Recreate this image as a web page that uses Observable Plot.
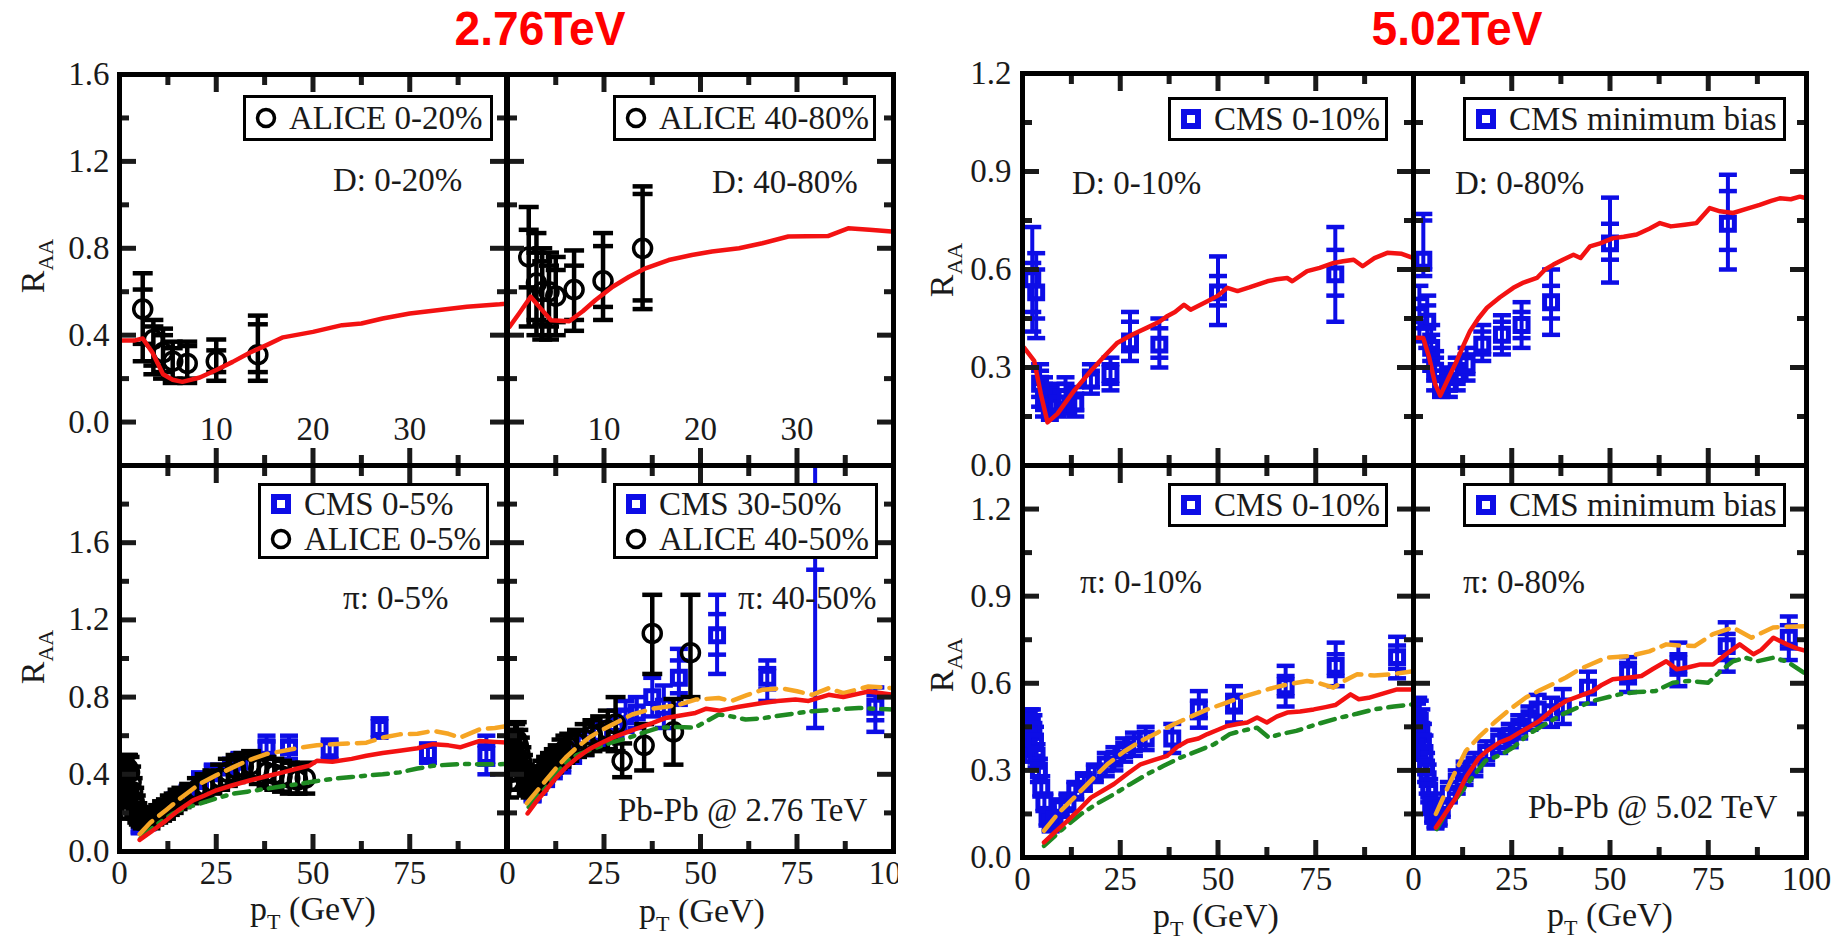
<!DOCTYPE html>
<html><head><meta charset="utf-8">
<script src="https://cdn.jsdelivr.net/npm/d3@7"></script>
<script src="https://cdn.jsdelivr.net/npm/@observablehq/plot@0.6"></script>
<style>
body{margin:0;background:#fff;}
#page{position:relative;width:1847px;height:940px;overflow:hidden;background:#fff;font-family:"Liberation Serif","DejaVu Serif",serif;color:#1a1a1a;}
.grp{position:absolute;top:0;height:940px;}
.txt{position:absolute;font-size:33px;line-height:40px;white-space:nowrap;}
.title{position:absolute;top:1px;font-family:"Liberation Sans",Arial,sans-serif;font-weight:bold;color:#ff0000;font-size:48px;line-height:56px;white-space:nowrap;transform:translateX(-50%) scaleX(0.96);}
.lg{position:absolute;border:3px solid #000;box-sizing:border-box;background:#fff;display:flex;flex-direction:column;justify-content:space-around;}
.lgrow{display:flex;align-items:center;font-size:33px;line-height:34px;white-space:nowrap;padding-left:8px;}
.lgrow svg{margin-right:11px;flex:none;}
.rot{position:absolute;transform:translate(-50%,-50%) rotate(-90deg);font-size:34px;white-space:nowrap;line-height:30px;}
.xl{position:absolute;transform:translate(-50%,-50%);font-size:34px;white-space:nowrap;line-height:28px;}
sub{font-size:22px;vertical-align:-9px;line-height:0;}
</style></head><body><div id="page"></div>
<script>
// ---------------- data ----------------
// Titles
const titles = ["2.76TeV", "5.02TeV"];

// Panel A : D meson, 0-20%, 2.76 TeV
const A_red = [[0,0.375],[1.5,0.375],[2.4,0.385],[3.4,0.32],[4.5,0.22],[5.5,0.195],[6.5,0.185],[8.3,0.205],[10,0.24],[11.7,0.277],[13.5,0.32],[15.2,0.354],[16.9,0.39],[20,0.415],[23,0.446],[25,0.454],[27.2,0.477],[30,0.5],[32.4,0.512],[35.9,0.531],[39.3,0.542],[40,0.545]];
const A_alice = [[2.4,0.52,0.28,0.685,0.36,0.61],[3.5,0.38,0.22,0.47,0.26,0.44],[4.5,0.32,0.2,0.43,0.23,0.4],[5.5,0.28,0.18,0.37,0.2,0.34],[7,0.27,0.18,0.37,0.2,0.35],[10,0.28,0.19,0.38,0.23,0.33],[14.3,0.31,0.19,0.49,0.23,0.45]];

// Panel B : D meson, 40-80%, 2.76 TeV
const B_red = [[0.2,0.438],[1.2,0.5],[2.4,0.577],[3.5,0.52],[4.5,0.469],[6.4,0.464],[7.8,0.51],[9.1,0.561],[10.9,0.623],[12.6,0.669],[14.3,0.708],[16.7,0.746],[19.1,0.769],[21.2,0.785],[24,0.8],[26.4,0.823],[29.1,0.854],[31,0.855],[33.2,0.856],[35.3,0.892],[37.5,0.885],[39.8,0.877]];
const B_alice = [[2.2,0.76,0.44,0.99,0.62,0.885],[3,0.64,0.4,0.87,0.47,0.78],[3.6,0.6,0.38,0.8,0.45,0.74],[4.3,0.6,0.38,0.78,0.44,0.72],[5,0.58,0.4,0.76,0.46,0.7],[6.9,0.61,0.42,0.79,0.47,0.72],[9.9,0.65,0.47,0.87,0.53,0.81],[14,0.8,0.52,1.085,0.56,1.05]];

// Panel C : D meson, 0-10%, 5.02 TeV
const C_red = [[0.4,0.361],[3,0.32],[4.7,0.218],[6.4,0.132],[8.9,0.158],[13.2,0.229],[17.5,0.29],[21,0.335],[24.3,0.376],[28,0.4],[31.9,0.422],[35,0.44],[37.1,0.458],[39,0.47],[41.3,0.492],[43,0.477],[47.3,0.503],[50,0.52],[52.4,0.544],[55,0.534],[58,0.545],[62.6,0.564],[65,0.57],[67.7,0.574],[69,0.564],[72.8,0.595],[76,0.605],[79.6,0.62],[82,0.625],[84.7,0.63],[87,0.61],[90,0.635],[93.3,0.651],[97,0.648],[100,0.635]];
const C_cms = [[2.5,0.57,0.41,0.73,0.47,0.62],[3.5,0.53,0.39,0.65,0.45,0.6],[4.5,0.25,0.18,0.31,0.21,0.29],[5.5,0.21,0.15,0.27,0.17,0.25],[7,0.18,0.14,0.24,0.16,0.22],[9,0.19,0.15,0.25,0.17,0.23],[11,0.21,0.16,0.27,0.18,0.25],[13.5,0.19,0.15,0.24,0.17,0.22],[17.5,0.26,0.22,0.31,0.24,0.29],[22.5,0.28,0.23,0.33,0.25,0.31],[27.5,0.38,0.32,0.47,0.35,0.44],[35,0.37,0.3,0.45,0.33,0.42],[50,0.53,0.43,0.64,0.49,0.58],[80,0.585,0.44,0.73,0.52,0.66]];

// Panel D : D meson, 0-80%, 5.02 TeV
const D_red = [[0.8,0.391],[2.5,0.39],[4,0.33],[5.5,0.25],[6.8,0.214],[9,0.27],[11,0.32],[12.8,0.37],[14.4,0.412],[16.5,0.45],[18.7,0.483],[22,0.515],[25.4,0.544],[28,0.56],[31.4,0.574],[33.5,0.6],[35.6,0.615],[38,0.63],[40.7,0.645],[42.5,0.635],[44.9,0.671],[47.5,0.68],[50.8,0.696],[53.5,0.7],[56.8,0.707],[60,0.725],[62.7,0.742],[65.5,0.732],[69,0.737],[72,0.742],[75.4,0.788],[78,0.778],[81.3,0.773],[84.5,0.785],[88.1,0.798],[91,0.81],[93.2,0.818],[96,0.815],[98.3,0.823],[100,0.818]];
const D_cms = [[1.5,0.46,0.38,0.55,0.42,0.51],[2.5,0.63,0.58,0.77,0.6,0.75],[3.5,0.44,0.36,0.52,0.39,0.49],[4.5,0.36,0.29,0.43,0.32,0.4],[5.5,0.29,0.23,0.35,0.26,0.33],[7,0.24,0.21,0.29,0.22,0.27],[9,0.25,0.21,0.3,0.23,0.28],[11,0.28,0.23,0.33,0.25,0.31],[13.5,0.31,0.26,0.36,0.28,0.34],[17.5,0.37,0.32,0.43,0.34,0.41],[22.5,0.4,0.34,0.46,0.36,0.44],[27.5,0.43,0.36,0.5,0.39,0.47],[35,0.5,0.4,0.6,0.45,0.55],[50,0.68,0.56,0.82,0.63,0.74],[80,0.74,0.6,0.89,0.66,0.84]];

// Panel E : pion, 0-5%, 2.76 TeV
const E_red = [[5.2,0.06],[8,0.1],[12,0.16],[15,0.21],[19,0.265],[22,0.29],[25,0.317],[29,0.342],[33.6,0.368],[38,0.39],[42.2,0.41],[46,0.43],[49.1,0.445],[51,0.47],[55,0.465],[60,0.48],[63.8,0.496],[68,0.51],[72.4,0.522],[77,0.535],[81,0.556],[85,0.55],[88,0.54],[93.1,0.573],[97,0.568],[100,0.565]];
const E_orange = [[5.2,0.09],[8,0.15],[12,0.214],[16,0.28],[20.7,0.35],[25,0.395],[29.3,0.436],[33,0.47],[37.9,0.505],[42,0.52],[46.6,0.538],[51,0.55],[55,0.556],[60,0.56],[63.8,0.564],[68,0.59],[72.4,0.607],[77,0.61],[81,0.625],[85,0.61],[88,0.59],[93.1,0.633],[97,0.64],[100,0.65]];
const E_green = [[5.5,0.07],[9,0.13],[13.8,0.197],[17,0.225],[20.7,0.248],[25,0.275],[29.3,0.3],[33,0.31],[37.9,0.325],[42,0.338],[46.6,0.35],[51,0.365],[55,0.376],[60,0.386],[63.8,0.393],[68,0.4],[72.4,0.41],[77,0.43],[81,0.444],[85,0.45],[89.6,0.453],[95,0.452],[100,0.453]];
const E_cms = [[5.2,0.13,0.1,0.16],[7.2,0.15,0.12,0.18],[9.6,0.19,0.16,0.22],[12,0.22,0.19,0.25],[14.4,0.26,0.22,0.3],[17.6,0.3,0.26,0.34],[20.8,0.37,0.33,0.41],[24.1,0.41,0.37,0.45],[28.8,0.44,0.4,0.48],[31,0.47,0.43,0.51],[38,0.54,0.48,0.6,0.51,0.57],[43.8,0.54,0.48,0.6,0.51,0.57],[54.3,0.53,0.48,0.58],[67.2,0.64,0.59,0.69],[79.7,0.51,0.46,0.56],[94.8,0.5,0.4,0.6,0.45,0.55]];
const E_alice = [[0.4,0.27,0.17,0.37],[0.7,0.31,0.2,0.42],[1,0.35,0.24,0.46],[1.3,0.38,0.27,0.48],[1.6,0.41,0.31,0.49],[1.9,0.42,0.33,0.5],[2.2,0.43,0.34,0.5],[2.6,0.41,0.32,0.49],[3,0.36,0.28,0.44],[3.4,0.31,0.23,0.38],[3.8,0.26,0.19,0.33],[4.2,0.23,0.17,0.29],[4.6,0.2,0.15,0.25],[5,0.18,0.14,0.23],[5.5,0.17,0.13,0.21],[6,0.16,0.12,0.2],[7,0.15,0.12,0.19],[8,0.16,0.12,0.2],[9,0.18,0.14,0.22],[10,0.19,0.15,0.24],[11,0.21,0.16,0.26],[12,0.22,0.17,0.27],[13,0.24,0.19,0.29],[14,0.25,0.2,0.3],[15,0.27,0.22,0.32],[16,0.28,0.23,0.33],[18,0.3,0.25,0.35],[20,0.32,0.26,0.38],[22,0.34,0.28,0.4],[24,0.36,0.3,0.42],[26,0.38,0.32,0.45],[28,0.41,0.34,0.48],[30,0.43,0.36,0.5],[32,0.44,0.37,0.51],[34,0.45,0.38,0.52],[36,0.43,0.35,0.5],[38,0.41,0.33,0.49],[40,0.4,0.32,0.48],[42,0.39,0.31,0.47],[44,0.38,0.3,0.46],[46,0.37,0.3,0.45],[48,0.38,0.3,0.46]];

// Panel F : pion, 40-50%, 2.76 TeV
const F_red = [[5.2,0.197],[7.5,0.26],[9.9,0.316],[12.5,0.38],[15.1,0.436],[18,0.485],[21.1,0.53],[24,0.56],[27.2,0.59],[30.5,0.615],[34,0.641],[37.5,0.665],[41,0.692],[44.8,0.705],[48.7,0.718],[51.5,0.74],[55,0.73],[60,0.75],[66,0.769],[70,0.78],[74.6,0.787],[78,0.78],[83.2,0.812],[87,0.8],[93.5,0.829],[97,0.82],[100,0.812]];
const F_orange = [[5,0.25],[7.5,0.31],[9.9,0.368],[12.5,0.43],[15.1,0.487],[18,0.54],[21.1,0.59],[24,0.625],[27.2,0.658],[32.3,0.71],[37.5,0.74],[44.4,0.76],[48.7,0.787],[54.7,0.795],[58,0.78],[62,0.81],[66,0.838],[71,0.846],[75,0.83],[78.9,0.812],[83.2,0.846],[87,0.82],[93.5,0.855],[100,0.846]];
const F_green = [[5.5,0.23],[7.5,0.28],[9.9,0.33],[12.5,0.4],[15.5,0.47],[18,0.5],[22.9,0.538],[27,0.565],[31.5,0.59],[35,0.615],[39.2,0.641],[44,0.645],[48.5,0.641],[54.7,0.71],[58,0.7],[61.7,0.684],[66,0.69],[69,0.7],[75.4,0.718],[79,0.727],[85,0.735],[91,0.744],[100,0.735]];
const F_cms = [[6.5,0.3,0.26,0.34],[8,0.34,0.3,0.38],[10,0.39,0.34,0.44],[12,0.43,0.38,0.48],[14.2,0.46,0.41,0.51],[17,0.51,0.46,0.56],[20,0.56,0.5,0.62],[24,0.61,0.55,0.67],[28,0.66,0.59,0.73],[30.6,0.7,0.62,0.78],[33.5,0.72,0.64,0.8],[37.5,0.8,0.7,0.9],[40.5,0.75,0.64,0.86],[44.4,0.9,0.76,1.05,0.82,0.99],[54.3,1.12,0.92,1.33,1.02,1.23],[67.3,0.9,0.78,0.99,0.84,0.95],[79.7,2.3,0.64,2.6,1.46,2.4],[95.3,0.75,0.62,0.85,0.68,0.81]];
const F_alice = [[0.4,0.36,0.28,0.44],[0.7,0.41,0.32,0.5],[1,0.46,0.37,0.55],[1.3,0.5,0.41,0.59],[1.6,0.54,0.45,0.63],[2,0.57,0.48,0.66],[2.4,0.58,0.49,0.67],[2.8,0.55,0.46,0.63],[3.2,0.51,0.43,0.59],[3.6,0.47,0.4,0.54],[4,0.43,0.37,0.5],[4.5,0.39,0.33,0.45],[5,0.36,0.3,0.42],[5.5,0.34,0.29,0.4],[6,0.33,0.28,0.39],[7,0.35,0.3,0.4],[8,0.38,0.32,0.44],[9,0.41,0.35,0.47],[10,0.43,0.37,0.49],[11,0.45,0.39,0.51],[12,0.47,0.41,0.53],[13,0.49,0.43,0.55],[14,0.51,0.44,0.58],[15,0.53,0.46,0.6],[16,0.54,0.47,0.61],[18,0.56,0.49,0.63],[20,0.58,0.5,0.66],[22,0.6,0.52,0.68],[24,0.61,0.53,0.7],[26,0.63,0.53,0.73],[28,0.66,0.52,0.8],[29.7,0.47,0.385,0.56],[35.4,0.55,0.42,0.66],[37.5,1.13,0.92,1.33],[43,0.62,0.45,0.79],[47.4,1.03,0.8,1.33]];

// Panel G : pion, 0-10%, 5.02 TeV
const G_red = [[5.5,0.052],[8.5,0.09],[11.5,0.126],[14.5,0.165],[17.5,0.206],[20.5,0.23],[23.4,0.253],[27,0.29],[30.2,0.321],[33.5,0.335],[37,0.35],[39.5,0.38],[42.2,0.401],[45,0.41],[47.3,0.425],[50,0.44],[52.4,0.453],[55,0.46],[57.5,0.465],[60,0.482],[62.5,0.465],[65,0.485],[67.7,0.499],[71,0.503],[74.5,0.51],[77.5,0.518],[80,0.525],[83.9,0.562],[86,0.545],[88.5,0.55],[91.5,0.562],[95.8,0.579],[100,0.579]];
const G_orange = [[5.5,0.092],[9,0.15],[13.2,0.206],[17.5,0.265],[21.7,0.321],[26,0.365],[30.2,0.401],[34.5,0.43],[38.7,0.459],[43,0.485],[47.3,0.51],[51.5,0.53],[55.8,0.551],[60,0.568],[64.3,0.585],[68.5,0.598],[72.8,0.608],[76,0.6],[79.5,0.585],[82.5,0.61],[85.6,0.631],[90,0.627],[95,0.632],[100,0.642]];
const G_green = [[5.5,0.04],[10,0.095],[14.9,0.149],[19,0.185],[23.4,0.218],[27.5,0.252],[31.9,0.287],[36,0.315],[40.4,0.344],[45,0.368],[49,0.39],[53,0.425],[56,0.436],[60,0.447],[63,0.413],[66,0.425],[70,0.436],[75,0.458],[81.3,0.482],[85.5,0.495],[89.8,0.51],[95,0.52],[100,0.528]];
const G_cms = [[0.8,0.38,0.33,0.43],[1.2,0.42,0.37,0.47],[1.6,0.45,0.4,0.5],[2,0.46,0.41,0.51],[2.4,0.46,0.41,0.51],[2.8,0.44,0.39,0.49],[3.2,0.4,0.35,0.45],[3.6,0.35,0.31,0.39],[4.2,0.3,0.26,0.34],[4.8,0.24,0.21,0.28],[5.6,0.19,0.16,0.22],[6.4,0.14,0.11,0.17],[7.2,0.12,0.09,0.15],[8.2,0.13,0.1,0.16],[9.8,0.17,0.14,0.2],[11.5,0.19,0.16,0.22],[13.5,0.23,0.2,0.26],[15.7,0.26,0.23,0.29],[18.5,0.29,0.26,0.32],[21.3,0.32,0.28,0.36],[23.5,0.34,0.3,0.38],[26,0.37,0.33,0.41],[28.5,0.39,0.35,0.43],[31.5,0.41,0.37,0.45],[38.3,0.41,0.36,0.46],[45.1,0.51,0.447,0.573,0.48,0.54],[54.1,0.53,0.465,0.59,0.5,0.56],[67.3,0.59,0.52,0.66,0.555,0.625],[80.1,0.66,0.59,0.74,0.625,0.7],[95.8,0.69,0.617,0.76,0.65,0.73]];

// Panel H : pion, 0-80%, 5.02 TeV
const H_red = [[5.7,0.103],[8,0.15],[10.8,0.206],[13.5,0.28],[16.7,0.344],[19,0.37],[21.8,0.396],[24.5,0.41],[26.9,0.43],[29.5,0.45],[32,0.47],[35.5,0.51],[38.8,0.539],[42,0.555],[45.6,0.573],[48,0.595],[50.7,0.614],[55,0.62],[58,0.625],[61,0.65],[64.3,0.676],[67,0.648],[70,0.655],[73,0.665],[76.2,0.665],[79.5,0.7],[83,0.734],[86.5,0.7],[88.5,0.715],[91.6,0.757],[95,0.734],[97.5,0.72],[100,0.711]];
const H_orange = [[5.7,0.15],[9,0.25],[13.3,0.367],[17,0.42],[21,0.47],[24.5,0.51],[28.6,0.551],[32,0.575],[35.4,0.597],[38.8,0.62],[42.2,0.648],[45.6,0.668],[49,0.688],[55,0.694],[60,0.71],[64.3,0.734],[68,0.73],[71.5,0.728],[76.2,0.769],[81.3,0.792],[86,0.757],[91.5,0.792],[95,0.795],[100,0.797]];
const H_green = [[5.9,0.098],[9,0.17],[13.3,0.246],[18.3,0.333],[22.5,0.355],[25.5,0.38],[29.3,0.425],[33,0.455],[37.9,0.493],[41.5,0.515],[45.6,0.539],[52.4,0.562],[57,0.57],[61.5,0.573],[66,0.602],[70,0.608],[75,0.602],[78,0.64],[81.3,0.676],[84.5,0.688],[87.5,0.676],[91.6,0.688],[95,0.675],[100,0.631]];
const H_cms = [[0.6,0.42,0.35,0.49],[0.9,0.46,0.39,0.53],[1.2,0.48,0.41,0.55],[1.6,0.47,0.4,0.54],[2,0.44,0.37,0.51],[2.4,0.4,0.34,0.46],[2.8,0.36,0.3,0.42],[3.2,0.31,0.26,0.36],[3.6,0.27,0.22,0.32],[4,0.23,0.19,0.27],[4.5,0.18,0.15,0.22],[5,0.15,0.12,0.18],[5.6,0.13,0.1,0.16],[6.4,0.14,0.11,0.17],[7.2,0.17,0.14,0.2],[9,0.22,0.19,0.26],[11,0.26,0.22,0.3],[13,0.29,0.25,0.33],[15.5,0.32,0.28,0.36],[18.5,0.36,0.32,0.4],[21.8,0.4,0.36,0.44],[24.5,0.42,0.38,0.46],[26.9,0.45,0.41,0.49],[29.5,0.48,0.44,0.52],[31.6,0.51,0.46,0.56],[35,0.5,0.45,0.55],[38,0.52,0.46,0.58],[44.4,0.585,0.53,0.64],[54.6,0.637,0.57,0.69,0.6,0.67],[67.4,0.665,0.59,0.74,0.63,0.7],[79.7,0.728,0.64,0.81,0.68,0.77],[95.5,0.757,0.68,0.83,0.72,0.8]];

// Tick values
const ticksD276 = {xMajor:[10,20,30], xMinor:[5,15,25,35], yMajor:[0,0.4,0.8,1.2], yMinor:[-0.2,0.2,0.6,1.0,1.4], yLab:[0,0.4,0.8,1.2,1.6], xLab:[10,20,30]};
const ticksPi276 = {xMajor:[25,50,75], xMinor:[12.5,37.5,62.5,87.5], yMajor:[0.4,0.8,1.2,1.6], yMinor:[0.2,0.6,1.0,1.4,1.8], yLab:[0,0.4,0.8,1.2,1.6]};
const ticks502 = {xMajor:[25,50,75], xMinor:[12.5,37.5,62.5,87.5], yMajor:[0.3,0.6,0.9], yMinor:[0.15,0.45,0.75,1.05], yLab:[0,0.3,0.6,0.9,1.2]};
const ticks502b = {xMajor:[25,50,75], xMinor:[12.5,37.5,62.5,87.5], yMajor:[0.3,0.6,0.9,1.2], yMinor:[0.15,0.45,0.75,1.05], yLab:[0,0.3,0.6,0.9,1.2]};

// Texts
const legendsText = {A:["ALICE 0-20%"], B:["ALICE 40-80%"], C:["CMS 0-10%"], D:["CMS minimum bias"], E:["CMS 0-5%","ALICE 0-5%"], F:["CMS 30-50%","ALICE 40-50%"], G:["CMS 0-10%"], H:["CMS minimum bias"]};
const labelsText = {A:"D: 0-20%", B:"D: 40-80%", C:"D: 0-10%", D:"D: 0-80%", E:"π: 0-5%", F:"π: 40-50%", G:"π: 0-10%", H:"π: 0-80%"};
const systemsText = ["Pb-Pb @ 2.76 TeV", "Pb-Pb @ 5.02 TeV"];

// ---------------- drawing ----------------
const BLUE = "#0d0de6", RED = "#f31212", ORANGE = "#f6a524", GREEN = "#1f8a22", INK = "#1a1a1a";
const CAP = {draw(ctx, size) { const r = Math.sqrt(size / Math.PI); ctx.moveTo(-r, 0); ctx.lineTo(r, 0); }};
const page = document.getElementById("page");
const grpL = Object.assign(document.createElement("div"), {className: "grp"});
grpL.style.left = "0px"; grpL.style.width = "898px"; grpL.style.overflow = "hidden";
const grpR = Object.assign(document.createElement("div"), {className: "grp"});
grpR.style.left = "0px"; grpR.style.width = "1847px";
page.append(grpL, grpR);

function curve(rows, stroke, dash) {
  return Plot.line(rows, {x: d => d[0], y: d => d[1], stroke, strokeWidth: 4.5, strokeDasharray: dash, strokeLinejoin: "round", clip: true});
}
function pts(rows, color, kind) {
  const d = rows.map(([x, y, lo, hi, slo, shi]) => ({x, y, lo, hi, slo, shi}));
  const s = d.filter(r => r.slo !== undefined);
  const capR = kind === "circle" ? 10 : 9;
  const capOpt = y => ({x: "x", y, symbol: CAP, r: capR, stroke: color, strokeWidth: 4.5, clip: true});
  return [
    Plot.ruleX(d, {x: "x", y1: "lo", y2: "hi", stroke: color, strokeWidth: kind === "circle" ? 4.5 : 4, clip: true}),
    Plot.dot(d, capOpt("lo")), Plot.dot(d, capOpt("hi")),
    Plot.dot(s, capOpt("slo")), Plot.dot(s, capOpt("shi")),
    Plot.dot(d, {x: "x", y: "y", symbol: kind, r: kind === "circle" ? 9 : 7.3, stroke: color, strokeWidth: kind === "circle" ? 3.5 : 5, fill: "none", clip: true})
  ];
}

const M = {l: 80, r: 20, t: 20, b: 70};
function panel(host, c) {
  const w = c.fx[1] - c.fx[0], h = c.fy[1] - c.fy[0];
  const t = c.ticks;
  const tk = (anchor, ticks, size) => (anchor === "left" || anchor === "right")
    ? Plot.axisY({anchor, ticks, tickSize: -size, strokeWidth: 5, tickFormat: () => "", label: null})
    : Plot.axisX({anchor, ticks, tickSize: -size, strokeWidth: 5, tickFormat: () => "", label: null});
  const marks = [...c.marks];
  for (const a of ["left", "right"]) marks.push(tk(a, t.yMajor, 17), tk(a, t.yMinor, 10));
  for (const a of ["top", "bottom"]) marks.push(tk(a, t.xMajor, 17), tk(a, t.xMinor, 10));
  if (c.yLab) marks.push(Plot.axisY({anchor: "left", ticks: t.yLab, tickSize: 0, tickPadding: c.yPad, tickFormat: d => d.toFixed(1), label: null}));
  if (c.xLab) marks.push(Plot.axisX({anchor: "bottom", ticks: c.xLab, tickSize: 0, tickPadding: c.xPad, dy: c.xDy || 0, tickFormat: d => String(d), label: null}));
  marks.push(Plot.frame({stroke: "#000", strokeWidth: 5}));
  const svg = Plot.plot({
    width: w + M.l + M.r, height: h + M.t + M.b,
    marginLeft: M.l, marginRight: M.r, marginTop: M.t, marginBottom: M.b,
    x: {domain: c.xd, label: null}, y: {domain: c.yd, label: null},
    style: {background: "transparent", overflow: "visible", fontFamily: '"Liberation Serif", serif', fontSize: "33px", color: INK, maxWidth: "none"},
    marks
  });
  svg.style.position = "absolute";
  svg.style.left = (c.fx[0] - M.l) + "px";
  svg.style.top = (c.fy[0] - M.t) + "px";
  host.append(svg);
}

const LX = [[119, 506], [507, 893]], RX = [[1022, 1413], [1413, 1806]];
panel(grpL, {fx: LX[0], fy: [74, 465], xd: [0, 40], yd: [-0.2, 1.6], ticks: ticksD276, yLab: true, yPad: 10, xLab: ticksD276.xLab, xPad: 0, xDy: -49,
  marks: [...pts(A_alice, "#000", "circle"), curve(A_red, RED)]});
panel(grpL, {fx: LX[1], fy: [74, 465], xd: [0, 40], yd: [-0.2, 1.6], ticks: ticksD276, yLab: false, xLab: ticksD276.xLab, xPad: 0, xDy: -49,
  marks: [...pts(B_alice, "#000", "circle"), curve(B_red, RED)]});
panel(grpL, {fx: LX[0], fy: [465, 851], xd: [0, 100], yd: [0, 2.0], ticks: ticksPi276, yLab: true, yPad: 10, xLab: [0, 25, 50, 75], xPad: 9,
  marks: [...pts(E_cms, BLUE, "square"), ...pts(E_alice, "#000", "circle"), curve(E_green, GREEN, "15,8,4,8"), curve(E_orange, ORANGE, "18,9"), curve(E_red, RED)]});
panel(grpL, {fx: LX[1], fy: [465, 851], xd: [0, 100], yd: [0, 2.0], ticks: ticksPi276, yLab: false, xLab: [0, 25, 50, 75, 100], xPad: 9,
  marks: [...pts(F_cms, BLUE, "square"), ...pts(F_alice, "#000", "circle"), curve(F_green, GREEN, "15,8,4,8"), curve(F_orange, ORANGE, "18,9"), curve(F_red, RED)]});
panel(grpR, {fx: RX[0], fy: [73, 465], xd: [0, 100], yd: [0, 1.2], ticks: ticks502, yLab: true, yPad: 11,
  marks: [...pts(C_cms, BLUE, "square"), curve(C_red, RED)]});
panel(grpR, {fx: RX[1], fy: [73, 465], xd: [0, 100], yd: [0, 1.2], ticks: ticks502, yLab: false,
  marks: [...pts(D_cms, BLUE, "square"), curve(D_red, RED)]});
panel(grpR, {fx: RX[0], fy: [465, 857], xd: [0, 100], yd: [0, 1.35], ticks: ticks502b, yLab: true, yPad: 11, xLab: [0, 25, 50, 75], xPad: 9,
  marks: [...pts(G_cms, BLUE, "square"), curve(G_green, GREEN, "15,8,4,8"), curve(G_orange, ORANGE, "18,9"), curve(G_red, RED)]});
panel(grpR, {fx: RX[1], fy: [465, 857], xd: [0, 100], yd: [0, 1.35], ticks: ticks502b, yLab: false, xLab: [0, 25, 50, 75, 100], xPad: 9,
  marks: [...pts(H_cms, BLUE, "square"), curve(H_green, GREEN, "15,8,4,8"), curve(H_orange, ORANGE, "18,9"), curve(H_red, RED)]});

// ---------------- html text ----------------
function el(host, cls, html, css) {
  const d = document.createElement("div");
  d.className = cls; d.innerHTML = html; Object.assign(d.style, css); host.append(d); return d;
}
const sym = k => k === "square"
  ? `<svg width="24" height="24"><rect x="5" y="5" width="14" height="14" fill="none" stroke="${BLUE}" stroke-width="6"/></svg>`
  : `<svg width="24" height="24"><circle cx="12" cy="12" r="8.5" fill="none" stroke="#000" stroke-width="3.5"/></svg>`;
function legend(host, key, left, top, width, height, kinds) {
  const rows = legendsText[key].map((t, i) => `<div class="lgrow">${sym(kinds[i])}<span>${t}</span></div>`).join("");
  el(host, "lg", rows, {left: left + "px", top: top + "px", width: width + "px", height: height + "px"});
}
legend(grpL, "A", 243, 95, 250, 46, ["circle"]);
legend(grpL, "B", 613, 95, 263, 46, ["circle"]);
legend(grpL, "E", 258, 483, 231, 76, ["square", "circle"]);
legend(grpL, "F", 613, 483, 265, 76, ["square", "circle"]);
legend(grpR, "C", 1168, 97, 220, 44, ["square"]);
legend(grpR, "D", 1463, 97, 323, 44, ["square"]);
legend(grpR, "G", 1168, 483, 220, 44, ["square"]);
legend(grpR, "H", 1463, 483, 323, 44, ["square"]);

const lab = (host, key, left, cy) => el(host, "txt", labelsText[key], {left: left + "px", top: (cy - 20) + "px"});
lab(grpL, "A", 333, 180); lab(grpL, "B", 712, 182);
lab(grpL, "E", 343, 598); lab(grpL, "F", 738, 598);
lab(grpR, "C", 1072, 183); lab(grpR, "D", 1455, 183);
lab(grpR, "G", 1080, 582); lab(grpR, "H", 1463, 582);
el(grpL, "txt", systemsText[0], {left: "618px", top: "790px"});
el(grpR, "txt", systemsText[1], {left: "1528px", top: "787px"});

const raa = "R<sub>AA</sub>", ptl = "p<sub>T</sub> (GeV)";
el(grpL, "rot", raa, {left: "33px", top: "266px"});
el(grpL, "rot", raa, {left: "33px", top: "657px"});
el(grpR, "rot", raa, {left: "942px", top: "270px"});
el(grpR, "rot", raa, {left: "942px", top: "665px"});
el(grpL, "xl", ptl, {left: "313px", top: "909px"});
el(grpL, "xl", ptl, {left: "702px", top: "911px"});
el(grpR, "xl", ptl, {left: "1216px", top: "916px"});
el(grpR, "xl", ptl, {left: "1610px", top: "915px"});

el(page, "title", titles[0], {left: "540px"});
el(page, "title", titles[1], {left: "1457px"});
</script></body></html>
